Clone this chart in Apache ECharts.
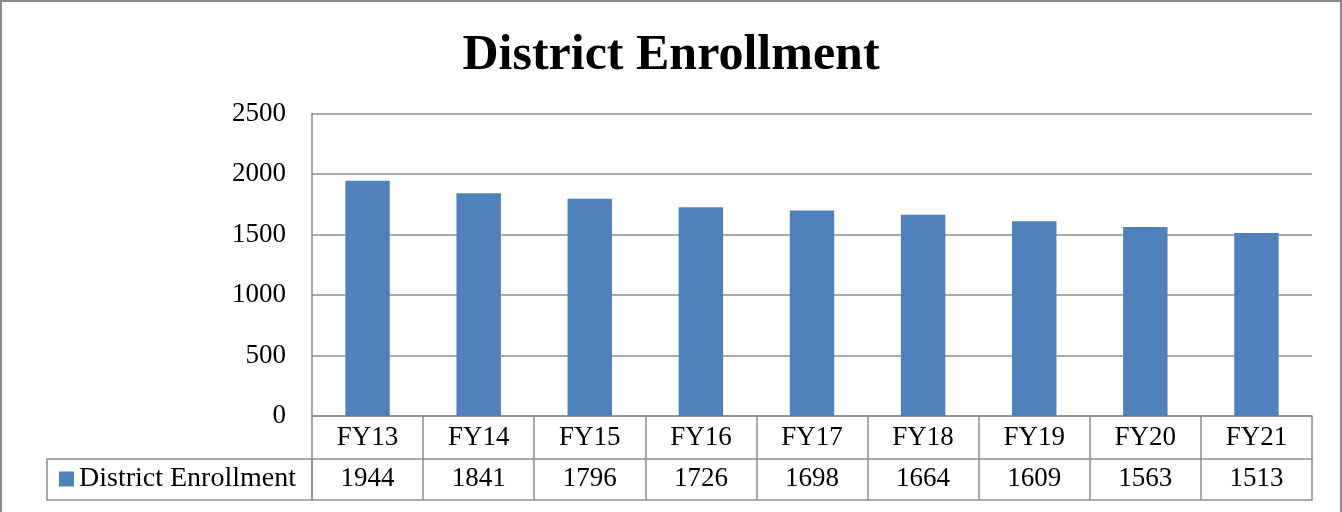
<!DOCTYPE html>
<html>
<head>
<meta charset="utf-8">
<script src="https://cdn.jsdelivr.net/npm/echarts@6/dist/echarts.min.js"></script>
<style>
  html, body { margin: 0; padding: 0; background: #fff; }
  #chart { width: 1342px; height: 512px; box-sizing: border-box;
           border-left: 2px solid #8a8a8a; border-top: 2px solid #8a8a8a; border-right: 2px solid #8a8a8a; }
</style>
</head>
<body>
<div id="chart"></div>
<script>
// data
const categories = ['FY13', 'FY14', 'FY15', 'FY16', 'FY17', 'FY18', 'FY19', 'FY20', 'FY21']
const enrollment = [1944, 1841, 1796, 1726, 1698, 1664, 1609, 1563, 1513]
const seriesName = 'District Enrollment'
const yTicks = [0, 2500, 500]  // min, max, interval

const FONT = '"Liberation Serif", "Times New Roman", serif'
const GRID_COLOR = '#8e8e8e'
const BAR_COLOR = '#4f81bd'

// the div has a 2px border on left/top, so canvas coords are shifted by 2
let chartDom = echarts.init(document.querySelector('#chart'))

let option = {
    animation: false,
    title: {
        text: 'District Enrollment',
        left: 'center',
        top: 24,
        textStyle: { fontFamily: FONT, fontSize: 50, fontWeight: 'bold', color: '#000' }
    },
    legend: {
        data: [seriesName],
        left: 52,
        top: 458,
        itemWidth: 15,
        itemHeight: 15,
        icon: 'rect',
        textStyle: { fontFamily: FONT, fontSize: 28, color: '#000' }
    },
    grid: { left: 310, right: 28, top: 111.5, bottom: 96 },
    xAxis: [
        {
            type: 'category',
            data: categories,
            position: 'bottom',
            axisLine: { show: true, lineStyle: { color: GRID_COLOR, width: 1.5 } },
            axisTick: { show: true, length: 84, interval: 0, lineStyle: { color: GRID_COLOR, width: 1.5 } },
            axisLabel: { fontFamily: FONT, fontSize: 27, color: '#000', margin: 8, lineHeight: 28 }
        },
        {
            type: 'category',
            data: enrollment.map(String),
            position: 'bottom',
            offset: 43,
            axisLine: { show: true, lineStyle: { color: GRID_COLOR, width: 1.5 } },
            axisTick: { show: false },
            axisLabel: { fontFamily: FONT, fontSize: 27, color: '#000', margin: 6, lineHeight: 28 }
        },
        {
            type: 'category',
            data: categories,
            position: 'bottom',
            offset: 84,
            axisLine: { show: true, lineStyle: { color: GRID_COLOR, width: 1.5 } },
            axisTick: { show: false },
            axisLabel: { show: false }
        }
    ],
    yAxis: {
        type: 'value',
        min: yTicks[0],
        max: yTicks[1],
        interval: yTicks[2],
        axisLine: { show: true, lineStyle: { color: GRID_COLOR, width: 1.5 } },
        axisTick: { show: false },
        splitLine: { lineStyle: { color: GRID_COLOR, width: 1.5 } },
        axisLabel: { fontFamily: FONT, fontSize: 27, color: '#000', margin: 26, formatter: v => String(v) }
    },
    graphic: [
        // legend cell of the data table
        {
            type: 'rect',
            shape: { x: 45, y: 457, width: 265, height: 41 },
            style: { fill: 'none', stroke: GRID_COLOR, lineWidth: 1.5 },
            silent: true
        }
    ],
    series: [
        {
            name: seriesName,
            type: 'bar',
            xAxisIndex: 0,
            data: enrollment,
            barWidth: '40%',
            itemStyle: { color: BAR_COLOR }
        }
    ]
}
chartDom.setOption(option)
</script>
</body>
</html>
